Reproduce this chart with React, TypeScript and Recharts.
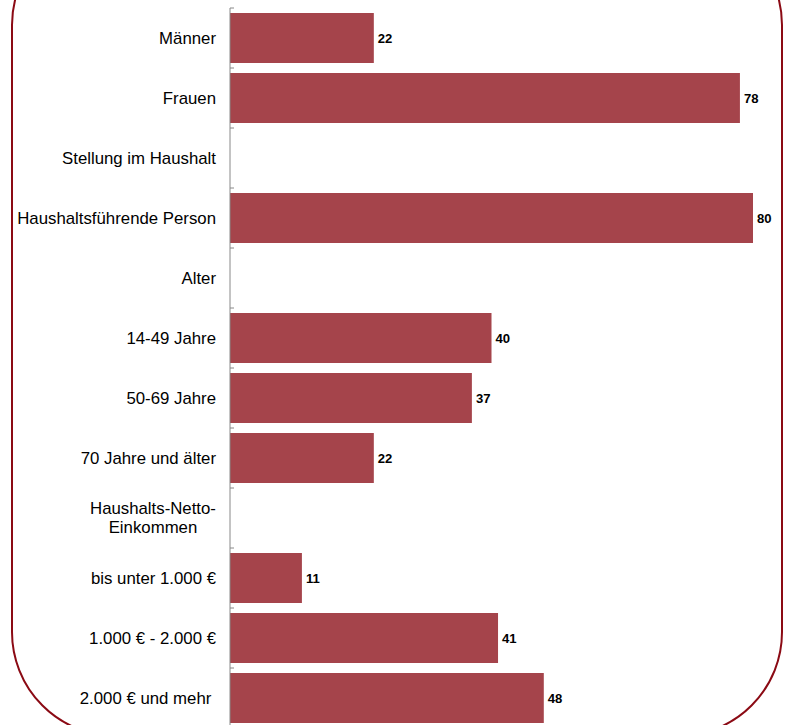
import { Bar, BarChart, LabelList, XAxis, YAxis } from 'recharts'

const categories = [
  'Männer',
  'Frauen',
  'Stellung im Haushalt',
  'Haushaltsführende Person',
  'Alter',
  '14-49 Jahre',
  '50-69 Jahre',
  '70 Jahre und älter',
  'Haushalts-Netto-\nEinkommen',
  'bis unter 1.000 €',
  '1.000 € - 2.000 €',
  '2.000 € und mehr ',
]

const values: (number | null)[] = [22, 78, null, 80, null, 40, 37, 22, null, 11, 41, 48]

const chartData = categories.map((label, i) => ({ label, value: values[i] }))

const CHART_W = 786
const CHART_H = 730
const MARGIN = { top: 8, right: 33, bottom: 2, left: 0 }
const BAND = (CHART_H - MARGIN.top - MARGIN.bottom) / categories.length
const STRETCH = 1.05
const LABEL_FONT = '16px "Liberation Sans", Arial, sans-serif'

let ctx: CanvasRenderingContext2D | null = null
const measure = (text: string) => {
  if (!ctx) ctx = document.createElement('canvas').getContext('2d')
  if (!ctx) return text.length * 8
  ctx.font = LABEL_FONT
  return ctx.measureText(text).width * STRETCH
}

const CategoryTick = (props: any) => {
  const { x, y, payload, index } = props
  const axisX = x + 14
  const lines = String(payload.value).split('\n')
  const isLast = index === categories.length - 1
  const tickStyle = { stroke: '#888', strokeWidth: 1 }
  let text
  if (lines.length > 1) {
    const w = Math.max(...lines.map(measure))
    const cx = x - w / 2
    text = (
      <text
        transform={`translate(${cx},${y}) scale(${STRETCH},1)`}
        textAnchor="middle"
        fontSize={16}
        fill="#000"
        style={{ whiteSpace: 'pre' }}
      >
        {lines.map((l, i) => (
          <tspan key={i} x={0} dy={i === 0 ? -10 + 5.5 : 20}>
            {l}
          </tspan>
        ))}
      </text>
    )
  } else {
    text = (
      <text
        transform={`translate(${x},${y}) scale(${STRETCH},1)`}
        dy={5.5}
        textAnchor="end"
        fontSize={16}
        fill="#000"
        style={{ whiteSpace: 'pre' }}
      >
        {lines[0]}
      </text>
    )
  }
  return (
    <g>
      <line x1={axisX} x2={axisX + 4} y1={y - BAND / 2} y2={y - BAND / 2} {...tickStyle} />
      {isLast && <line x1={axisX} x2={axisX + 4} y1={y + BAND / 2} y2={y + BAND / 2} {...tickStyle} />}
      {text}
    </g>
  )
}

const ValueLabel = (props: any) => {
  const { x, y, width, height, value } = props
  if (value == null) return null
  const tx = x + width + 4
  const ty = y + height / 2
  return (
    <text
      transform={`translate(${tx},${ty}) scale(${STRETCH},1)`}
      dy={4.5}
      textAnchor="start"
      fontSize={12.5}
      fontWeight="bold"
      fill="#000"
    >
      {value}
    </text>
  )
}

export default function App() {
  return (
    <div
      style={{
        position: 'fixed',
        left: 0,
        top: 0,
        width: 786,
        height: 725,
        overflow: 'hidden',
        background: '#fff',
        fontFamily: '"Liberation Sans", Arial, sans-serif',
      }}
    >
      <div
        style={{
          position: 'absolute',
          left: 11,
          top: -80,
          width: 768,
          height: 813,
          border: '2px solid #8b0a14',
          borderRadius: 105,
        }}
      />
      <div style={{ position: 'absolute', left: 0, top: 0 }}>
        <BarChart
          width={CHART_W}
          height={CHART_H}
          data={chartData}
          layout="vertical"
          margin={MARGIN}
          barCategoryGap={5}
        >
          <XAxis type="number" domain={[0, 80]} hide />
          <YAxis
            type="category"
            dataKey="label"
            width={230}
            interval={0}
            tickSize={0}
            tickMargin={14}
            tickLine={false}
            axisLine={{ stroke: '#888' }}
            tick={<CategoryTick />}
          />
          <Bar dataKey="value" fill="#a5444b" isAnimationActive={false}>
            <LabelList dataKey="value" content={<ValueLabel />} />
          </Bar>
        </BarChart>
      </div>
    </div>
  )
}
